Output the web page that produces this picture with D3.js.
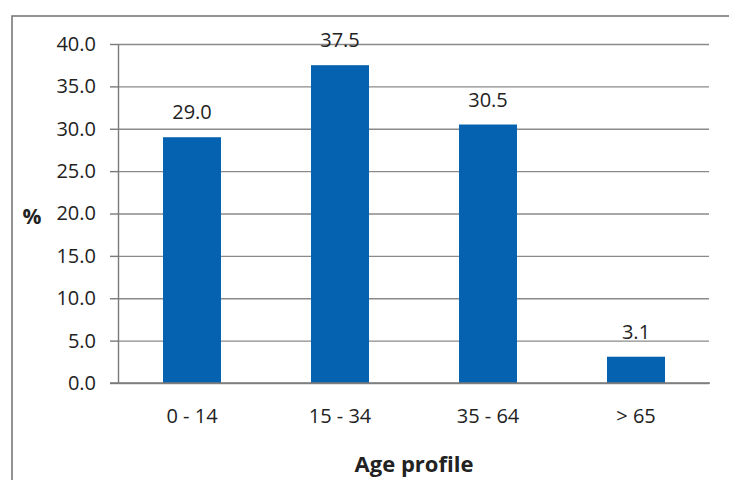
<!DOCTYPE html>
<html>
<head>
<meta charset="utf-8">
<script src="https://cdnjs.cloudflare.com/ajax/libs/d3/7.8.5/d3.min.js"></script>
<style>
  html, body { margin: 0; padding: 0; background: #ffffff; }
  svg { display: block; }
  text { font-family: "Open Sans", "DejaVu Sans", sans-serif; fill: #222222; }
</style>
</head>
<body>
<svg id="chart" width="729" height="480"></svg>
<script>
const ageGroups = ["0 - 14", "15 - 34", "35 - 64", "> 65"];
const shares = [29.0, 37.5, 30.5, 3.1];
const yTicks = [0, 5, 10, 15, 20, 25, 30, 35, 40];

const svg = d3.select("#chart");

const plot = { left: 118, right: 710, top: 44, bottom: 383 };

// outer frame of the scanned chart
svg.append("path")
  .attr("d", "M12,480V16H729")
  .attr("fill", "none")
  .attr("stroke", "#707070")
  .attr("stroke-width", 1.5);

const x = d3.scaleBand()
  .domain(ageGroups)
  .range([plot.left, plot.right])
  .paddingInner(0.608)
  .paddingOuter(0.304);

const y = d3.scaleLinear()
  .domain([0, 40])
  .range([plot.bottom, plot.top]);

// gridlines
const grid = svg.append("g")
  .attr("transform", `translate(${plot.left},0)`)
  .call(d3.axisLeft(y).tickValues(yTicks).tickSize(-(plot.right - plot.left - 1)).tickFormat(""));
grid.select(".domain").remove();
grid.selectAll("line").attr("stroke", "#8a8a8a").attr("stroke-width", 1.4);

// bars
svg.selectAll("rect.bar")
  .data(shares)
  .enter()
  .append("rect")
  .attr("class", "bar")
  .attr("x", (d, i) => x(ageGroups[i]))
  .attr("y", d => y(d))
  .attr("width", x.bandwidth())
  .attr("height", d => y(0) - y(d))
  .attr("fill", "#0562b0");

// y axis
const yAxis = svg.append("g")
  .attr("transform", `translate(${plot.left},0)`)
  .call(d3.axisLeft(y).tickValues(yTicks).tickSize(8).tickSizeOuter(0).tickPadding(14).tickFormat(d3.format(".1f")));
yAxis.select(".domain").attr("stroke", "#7a7a7a").attr("stroke-width", 1.4);
yAxis.selectAll("line").attr("stroke", "#7a7a7a").attr("stroke-width", 1.4);
yAxis.selectAll("text")
  .style("font-size", "20px")
  .attr("fill", "#222222");

// x axis
const xAxis = svg.append("g")
  .attr("transform", `translate(0,${plot.bottom})`)
  .call(d3.axisBottom(x).tickSize(0).tickSizeOuter(0));
xAxis.select(".domain").attr("stroke", "#7a7a7a").attr("stroke-width", 1.4)
  .attr("d", `M${plot.left - 8},0H${plot.right}`);
xAxis.selectAll("text")
  .attr("y", 40)
  .attr("dy", 0)
  .style("font-size", "20px")
  .attr("fill", "#222222");

// value labels
svg.selectAll("text.value")
  .data(shares)
  .enter()
  .append("text")
  .attr("class", "value")
  .attr("x", (d, i) => x(ageGroups[i]) + x.bandwidth() / 2)
  .attr("y", d => y(d) - 18)
  .attr("text-anchor", "middle")
  .style("font-size", "20px")
  .text(d => d3.format(".1f")(d));

// axis titles
svg.append("text")
  .attr("x", 32)
  .attr("y", 224)
  .attr("text-anchor", "middle")
  .style("font-size", "21px")
  .style("font-weight", "bold")
  .text("%");

svg.append("text")
  .attr("x", (plot.left + plot.right) / 2)
  .attr("y", 472)
  .attr("text-anchor", "middle")
  .style("font-size", "22px")
  .style("font-weight", "bold")
  .text("Age profile");
</script>
</body>
</html>
